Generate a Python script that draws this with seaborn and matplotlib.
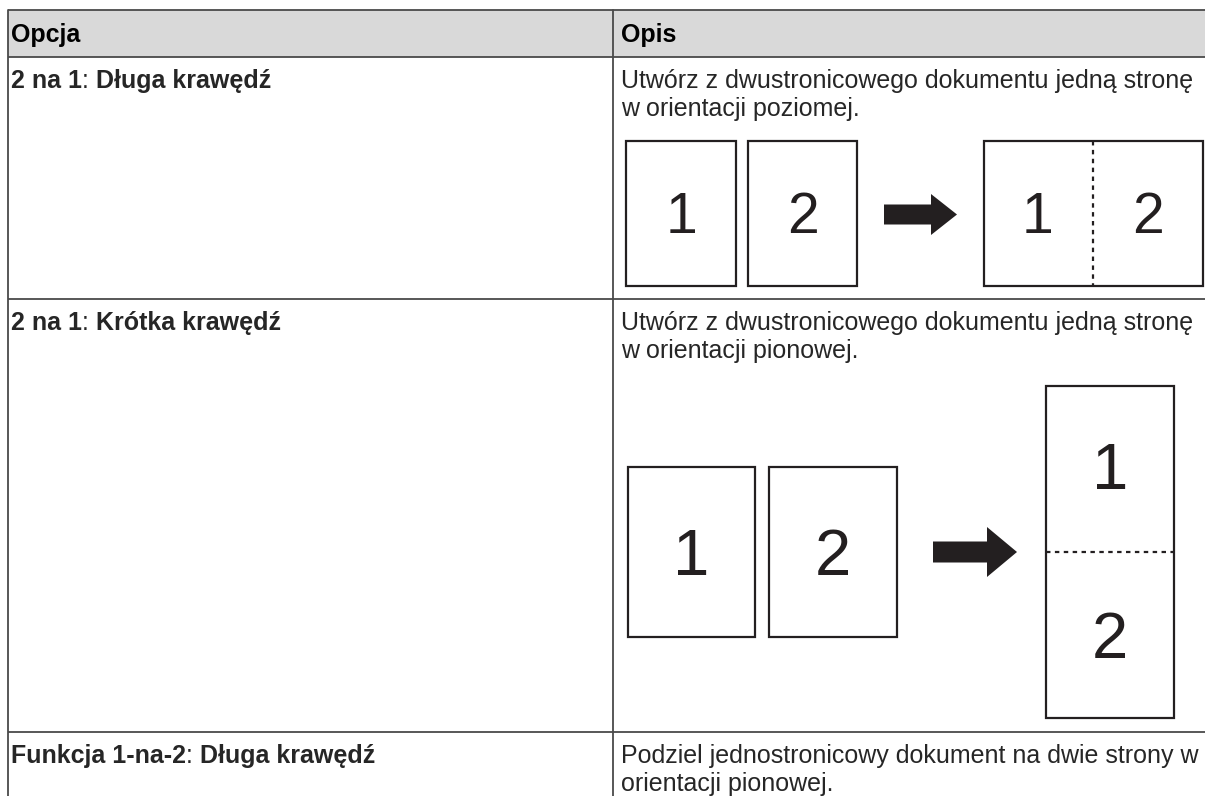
import matplotlib
matplotlib.use("Agg")
import matplotlib.pyplot as plt
from matplotlib.patches import Rectangle, FancyArrow
import seaborn as sns

sns.set_theme(style="white")
plt.rcParams['font.family'] = ['Liberation Sans', 'DejaVu Sans']

# table content
headers = ["Opcja", "Opis"]
option_names = ["2 na 1", "2 na 1", "Funkcja 1-na-2"]
option_edges = ["Długa krawędź", "Krótka krawędź", "Długa krawędź"]
descriptions = [
    ["Utwórz z dwustronicowego dokumentu jedną stronę", "w orientacji poziomej."],
    ["Utwórz z dwustronicowego dokumentu jedną stronę", "w orientacji pionowej."],
    ["Podziel jednostronicowy dokument na dwie strony w", "orientacji pionowej."],
]
page_numbers = ["1", "2"]

# layout (pixels)
W, H = 1205, 796
left, mid = 8, 613
row_lines = [10, 57, 299, 732]
line_col = "#4a4a4a"
ink = "#231f20"
fs = 18

fig = plt.figure(figsize=(W / 100, H / 100), dpi=100)
ax = fig.add_axes([0, 0, 1, 1])
ax.set_xlim(0, W)
ax.set_ylim(H, 0)
ax.axis("off")

# header band and grid
ax.add_patch(Rectangle((left, row_lines[0]), W - left, row_lines[1] - row_lines[0],
                       facecolor="#d9d9d9", edgecolor="none"))
for y in row_lines:
    ax.plot([left, W], [y, y], color=line_col, lw=1.3, solid_capstyle="butt")
ax.plot([left, left], [row_lines[0], H], color=line_col, lw=1.3)
ax.plot([mid, mid], [row_lines[0], H], color=line_col, lw=1.3)

ax.text(left + 3, 42, headers[0], fontsize=fs, fontweight="bold", color="black")
ax.text(mid + 8, 42, headers[1], fontsize=fs, fontweight="bold", color="black")

# option rows
for i, top in enumerate(row_lines[1:]):
    base = top + 31
    t = ax.text(left + 3, base, option_names[i], fontsize=fs, fontweight="bold", va="baseline")
    t = ax.annotate(":", xy=(1, base), xycoords=(t, "data"), fontsize=fs,
                    ha="left", va="baseline")
    ax.annotate(" " + option_edges[i], xy=(1, base), xycoords=(t, "data"), fontsize=fs,
                fontweight="bold", ha="left", va="baseline")
    for j, line in enumerate(descriptions[i]):
        ax.text(mid + 8, base + j * 28, line, fontsize=fs, va="baseline")


def page(x, y, w, h):
    ax.add_patch(Rectangle((x, y), w, h, facecolor="white", edgecolor=ink, lw=1.6))


def digit(x, y, s, size):
    ax.text(x, y, s, fontsize=size, ha="center", va="baseline", color=ink)


# row 1: two portrait pages -> one landscape page
for (x, w), n in zip([(626, 110), (748, 109)], page_numbers):
    page(x, 141, w, 145)
    digit(x + w / 2, 233, n, 41)
ax.add_patch(FancyArrow(884, 214.5, 73, 0, width=20, head_width=41, head_length=26,
                        length_includes_head=True, color=ink, lw=0))
page(984, 141, 219, 145)
ax.plot([1093, 1093], [141, 286], color=ink, lw=1.6, dashes=(2, 2))
digit(1038, 233, page_numbers[0], 41)
digit(1148, 233, page_numbers[1], 41)

# row 2: two portrait pages -> one tall page
for (x, w), n in zip([(628, 127), (769, 128)], page_numbers):
    page(x, 467, w, 170)
    digit(x + w / 2, 575, n, 47)
ax.add_patch(FancyArrow(933, 552, 84, 0, width=21, head_width=50, head_length=30,
                        length_includes_head=True, color=ink, lw=0))
page(1046, 386, 128, 332)
ax.plot([1046, 1174], [552, 552], color=ink, lw=1.6, dashes=(2, 2))
digit(1110, 489, page_numbers[0], 47)
digit(1110, 658, page_numbers[1], 47)

fig.savefig("out.png", dpi=100, facecolor="white")
